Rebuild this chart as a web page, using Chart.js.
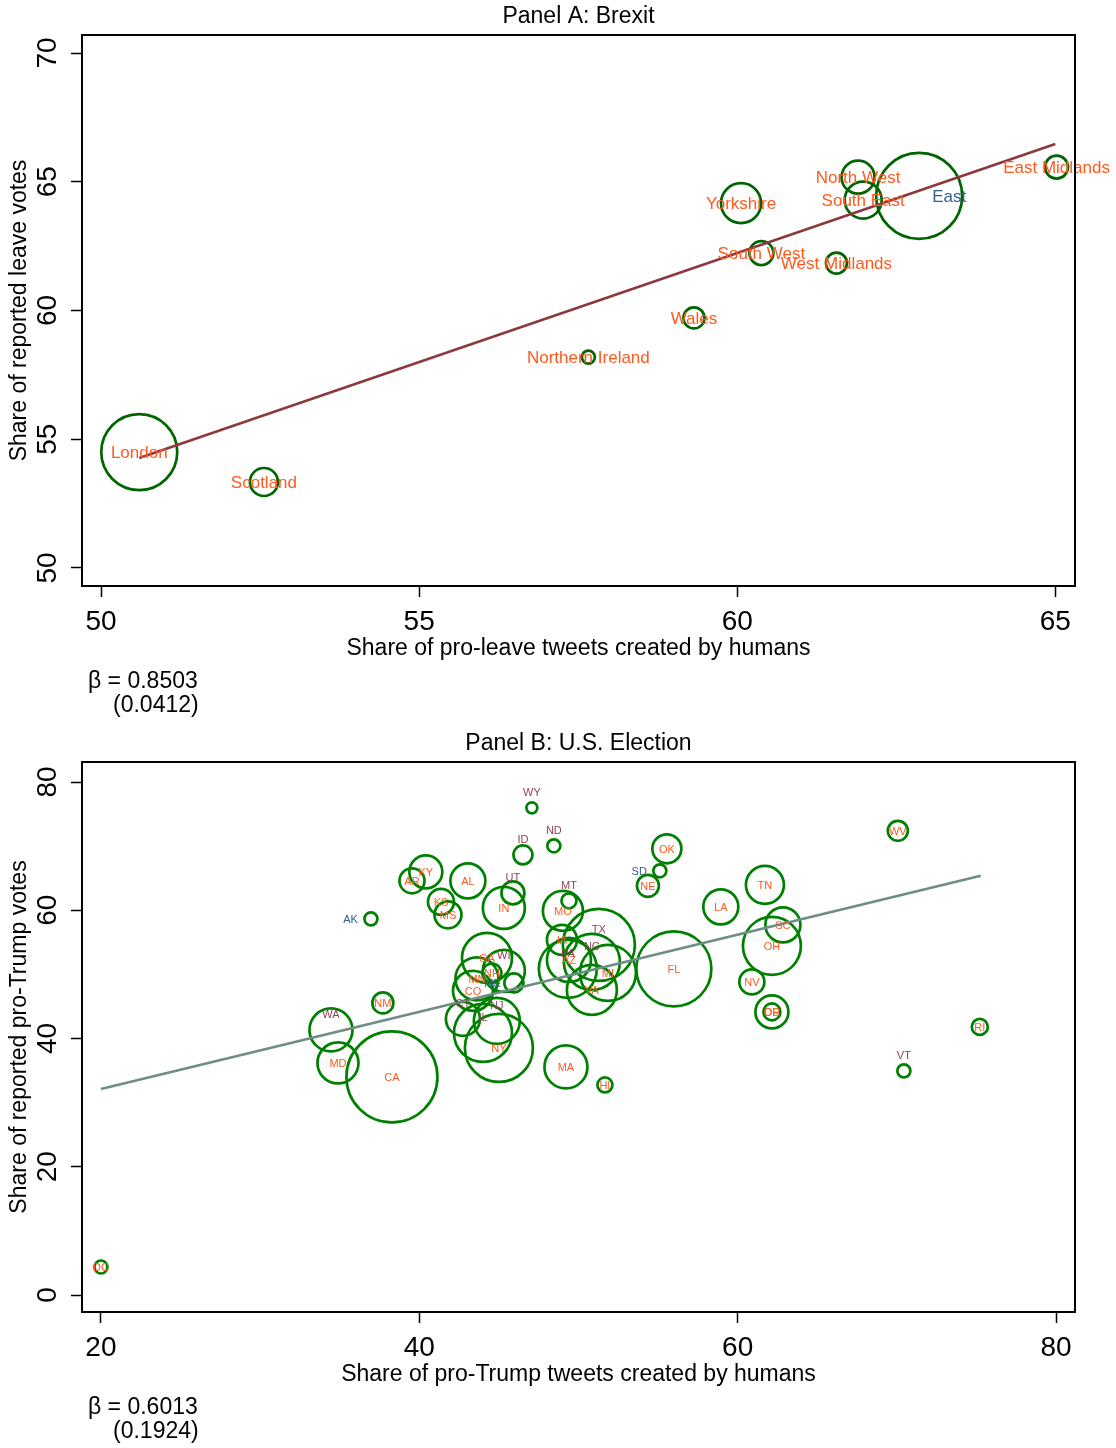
<!DOCTYPE html>
<html>
<head>
<meta charset="utf-8">
<script src="https://cdn.jsdelivr.net/npm/chart.js@4/dist/chart.umd.min.js"></script>
<style>
  html, body { margin: 0; padding: 0; background: #fff; overflow: hidden; }
  canvas { position: absolute; left: 0; }
  #cA { top: 0; }
  #cB { top: 727px; }
</style>
</head>
<body>
<canvas id="cA" width="1116" height="724"></canvas>
<canvas id="cB" width="1116" height="723"></canvas>
<script>
// ---------------- DATA ----------------
// Panel A: Brexit
const brexitRegions = ['London','Scotland','Northern Ireland','Wales','Yorkshire','South West','West Midlands','North West','South East','East','East Midlands'];
const brexitHumanShare = [50.60, 52.56, 57.66, 59.32, 60.06, 60.38, 61.56, 61.90, 61.98, 62.86, 65.02];
const brexitLeaveVote  = [54.50, 53.34, 58.19, 59.71, 64.17, 62.23, 61.84, 65.18, 64.29, 64.45, 65.57];
const brexitBubble     = [38, 14, 6.5, 10.5, 20, 12, 10.5, 16.5, 18.5, 43, 11.5];
const brexitGroup      = ['o','o','o','o','o','o','o','o','o','b','o'];
const brexitFitX = [50.60, 65.00];
const brexitFitY = [54.27, 66.47];
const brexitXTicks = [50, 55, 60, 65];
const brexitYTicks = [50, 55, 60, 65, 70];
const brexitBeta = 'β = 0.8503';
const brexitSE = '(0.0412)';

// Panel B: U.S. Election
const usStates = ['AK','AL','AR','AZ','CA','CO','CT','DC','DE','FL','GA','HI','IA','ID','IL','IN','KS','KY','LA','MA','MD','ME','MI','MN','MO','MS','MT','NC','ND','NE','NH','NJ','NM','NV','NY','OH','OK','OR','PA','RI','SC','SD','TN','TX','UT','VA','VT','WA','WI','WV','WY'];
const usHumanShare = [36.96,43.05,39.54,49.40,38.28,43.37,42.74,20.00,62.15,55.99,44.25,51.66,48.96,46.51,44.00,45.31,41.36,40.41,58.94,49.21,34.89,45.94,51.85,43.62,49.02,41.80,49.40,50.84,48.45,54.36,44.56,44.87,37.71,60.89,45.00,62.15,55.55,62.15,49.33,75.21,62.84,55.11,61.71,51.28,45.88,50.84,70.44,34.45,45.31,70.06,47.07];
const usTrumpVote  = [58.66,64.59,64.59,52.26,34.01,47.43,43.06,4.37,44.15,50.86,52.57,32.76,55.38,68.64,40.87,60.37,61.31,65.99,60.53,35.57,36.19,48.67,50.23,49.30,59.90,59.28,61.47,51.95,70.05,63.81,50.20,42.75,45.55,48.83,38.53,54.45,69.58,44.15,50.86,41.81,57.72,66.15,63.96,54.60,62.71,47.58,34.95,41.34,50.55,72.39,75.98];
const usBubble     = [6.5,17.5,12.5,22,45.5,20,17,6.5,8.5,37.5,25,7.5,15,9.5,29,21,13,16.5,17.5,21.5,20.5,9.5,28,21.5,20,13.5,7.5,28,6.5,11,9.5,23,10.5,12.5,34,29,14.5,16.5,29,8,17.5,6.5,19,36,11.5,25,6.5,21.5,21,10,5.5];
const usGroup      = ['b','o','o','o','o','o','r','o','o','o','o','o','o','r','r','o','o','o','o','o','o','b','o','o','o','o','r','r','r','o','o','r','o','o','o','o','o','o','r','o','o','b','o','r','r','o','r','r','r','o','r'];
const usFitX = [20.00, 75.27];
const usFitY = [32.14, 65.37];
const usXTicks = [20, 40, 60, 80];
const usYTicks = [0, 20, 40, 60, 80];
const usBeta = 'β = 0.6013';
const usSE = '(0.1924)';

// ---------------- STYLE ----------------
const FONT = '"Liberation Sans", Arial, Helvetica, sans-serif';
const labelColors = { o: '#ff5a1e', r: '#8e3f52', b: '#34608e' };

function zeroPad(s) { s.paddingTop = 0; s.paddingBottom = 0; s.paddingLeft = 0; s.paddingRight = 0; }

function makeChart(canvasId, cfg) {
  const points = cfg.x.map((v, i) => ({ x: v, y: cfg.y[i], r: cfg.r[i] }));
  const fit = cfg.fitX.map((v, i) => ({ x: v, y: cfg.fitY[i] }));

  const panelPlugin = {
    id: 'panelDecor',
    afterDatasetsDraw(chart) {
      const ctx = chart.ctx;
      const meta = chart.getDatasetMeta(1);
      ctx.save();
      ctx.font = cfg.labelSize + 'px ' + FONT;
      meta.data.forEach((el, i) => {
        const g = cfg.groups[i];
        const pos = cfg.groupPos[g];
        ctx.fillStyle = labelColors[g];
        let tx = el.x, ty = el.y;
        ctx.textBaseline = 'middle';
        if (pos === 0) { ctx.textAlign = 'center'; }
        else if (pos === 12) { ctx.textAlign = 'center'; ty = el.y - cfg.labelGap; }
        else if (pos === 9) { ctx.textAlign = 'right'; tx = el.x - cfg.labelGapX; }
        else if (pos === 3) { ctx.textAlign = 'left'; tx = el.x + cfg.labelGapX; }
        ctx.fillText(cfg.labels[i], tx, ty + 1);
      });
      ctx.restore();
    },
    afterDraw(chart) {
      const ctx = chart.ctx;
      const a = chart.chartArea;
      ctx.save();
      ctx.strokeStyle = '#000';
      ctx.lineWidth = 2;
      ctx.strokeRect(a.left, a.top, a.right - a.left, a.bottom - a.top);
      ctx.fillStyle = '#000';
      ctx.font = '23px ' + FONT;
      ctx.textAlign = 'center';
      ctx.textBaseline = 'middle';
      ctx.fillText(cfg.title, (a.left + a.right) / 2, 17);
      ctx.textAlign = 'left';
      ctx.fillText(cfg.beta, 88, a.bottom + 96);
      ctx.fillText(cfg.se, 113, a.bottom + 120);
      ctx.restore();
    }
  };

  return new Chart(document.getElementById(canvasId), {
    type: 'bubble',
    data: {
      datasets: [
        {
          type: 'line',
          data: fit,
          borderColor: cfg.fitColor,
          borderWidth: 2.6,
          pointRadius: 0,
          fill: false,
          tension: 0
        },
        {
          type: 'bubble',
          data: points,
          borderColor: cfg.bubbleColor,
          backgroundColor: 'rgba(0,0,0,0)',
          borderWidth: 2.7,
          hoverRadius: 0
        }
      ]
    },
    options: {
      responsive: false,
      animation: false,
      events: [],
      layout: { autoPadding: false, padding: { top: 35, right: 41, bottom: 48, left: 0 } },
      plugins: { legend: { display: false }, tooltip: { enabled: false }, title: { display: false } },
      scales: {
        x: {
          type: 'linear',
          min: cfg.xMin, max: cfg.xMax,
          afterBuildTicks: s => { s.ticks = cfg.xTicks.map(v => ({ value: v })); },
          afterFit: s => { s.height = 90; zeroPad(s); },
          grid: { display: true, drawOnChartArea: false, drawTicks: true, tickLength: 11, tickColor: '#000', tickWidth: 1.5 },
          border: { display: false },
          ticks: { color: '#000', font: { family: FONT, size: 28 }, padding: 8, maxRotation: 0, minRotation: 0 },
          title: { display: true, text: cfg.xTitle, color: '#000', font: { family: FONT, size: 23 }, padding: { top: 0, bottom: 14 } }
        },
        y: {
          type: 'linear',
          min: cfg.yMin, max: cfg.yMax,
          afterBuildTicks: s => { s.ticks = cfg.yTicks.map(v => ({ value: v })); },
          afterFit: s => { s.width = 82; zeroPad(s); },
          grid: { display: true, drawOnChartArea: false, drawTicks: true, tickLength: 11, tickColor: '#000', tickWidth: 1.5 },
          border: { display: false },
          ticks: { color: '#000', font: { family: FONT, size: 28 }, padding: 7, minRotation: 90, maxRotation: 90, crossAlign: 'center' },
          title: { display: true, text: cfg.yTitle, color: '#000', font: { family: FONT, size: 23 }, padding: { top: 6, bottom: 0 } }
        }
      }
    },
    plugins: [panelPlugin]
  });
}

makeChart('cA', {
  title: 'Panel A: Brexit',
  x: brexitHumanShare, y: brexitLeaveVote, r: brexitBubble,
  labels: brexitRegions, groups: brexitGroup,
  groupPos: { o: 0, b: 3, r: 12 },
  labelSize: 17, labelGap: 18, labelGapX: 13,
  fitX: brexitFitX, fitY: brexitFitY,
  fitColor: '#8c383e', bubbleColor: '#006400',
  xMin: 49.70, xMax: 65.31, yMin: 49.30, yMax: 70.70,
  xTicks: brexitXTicks, yTicks: brexitYTicks,
  xTitle: 'Share of pro-leave tweets created by humans',
  yTitle: 'Share of reported leave votes',
  beta: brexitBeta, se: brexitSE
});

makeChart('cB', {
  title: 'Panel B: U.S. Election',
  x: usHumanShare, y: usTrumpVote, r: usBubble,
  labels: usStates, groups: usGroup,
  groupPos: { o: 0, b: 9, r: 12 },
  labelSize: 11, labelGap: 16, labelGapX: 13,
  fitX: usFitX, fitY: usFitY,
  fitColor: '#6e8d85', bubbleColor: '#008000',
  xMin: 18.81, xMax: 81.19, yMin: -2.65, yMax: 83.12,
  xTicks: usXTicks, yTicks: usYTicks,
  xTitle: 'Share of pro-Trump tweets created by humans',
  yTitle: 'Share of reported pro-Trump votes',
  beta: usBeta, se: usSE
});
</script>
</body>
</html>
